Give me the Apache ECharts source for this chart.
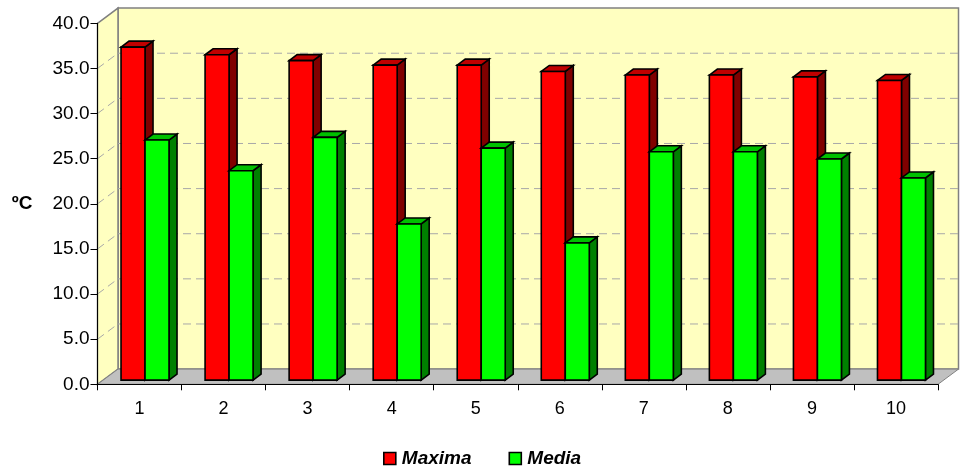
<!DOCTYPE html>
<html>
<head>
<meta charset="utf-8">
<style>html,body{margin:0;padding:0;background:#fff}#c{width:960px;height:467px}</style>
<script src="https://cdn.jsdelivr.net/npm/echarts@6/dist/echarts.min.js"></script>
</head>
<body>
<div id="c"></div>
<script>
var categories = ['1','2','3','4','5','6','7','8','9','10'];
var maxima = [36.9,36.05,35.4,34.9,34.9,34.2,33.8,33.8,33.6,33.2];
var media = [26.6,23.2,26.9,17.3,25.7,15.2,25.3,25.3,24.5,22.4];
var gridValues = [5,10,15,20,25,30,35];

var WALL_DX = 20.5, WALL_DY = -15.2;
var BAR_DX = 5.5, BAR_DY = -4.2;
var BAR_W = 24, SIDE_DX = 8, SIDE_DY = -6;

function poly(pts, fill, stroke, lw) {
  return {type:'polygon', shape:{points:pts}, style:{fill:fill, stroke:stroke||null, lineWidth:lw||0, lineJoin:'miter'}};
}
function renderWalls(params, api) {
  var cs = params.coordSys, L = cs.x, R = cs.x + cs.width, T = cs.y, B = cs.y + cs.height;
  var kids = [
    poly([[L+WALL_DX,T+WALL_DY],[R+WALL_DX,T+WALL_DY],[R+WALL_DX,B+WALL_DY],[L+WALL_DX,B+WALL_DY]], '#FFFFC0', '#808080', 1.5),
    poly([[L,T],[L+WALL_DX,T+WALL_DY],[L+WALL_DX,B+WALL_DY],[L,B]], '#FFFFC0', '#808080', 1.5),
    poly([[L,B],[L+WALL_DX,B+WALL_DY],[R+WALL_DX,B+WALL_DY],[R,B]], '#C0C0C0', '#808080', 1)
  ];
  gridValues.forEach(function (v) {
    var y = api.coord([0, v])[1];
    var style = {stroke:'#A8A8A8', lineWidth:1, lineDash:[8,5]};
    kids.push({type:'line', shape:{x1:L,y1:y,x2:L+WALL_DX,y2:y+WALL_DY}, style:style});
    kids.push({type:'line', shape:{x1:L+WALL_DX,y1:y+WALL_DY,x2:R+WALL_DX,y2:y+WALL_DY}, style:style});
  });
  return {type:'group', children:kids};
}
function barRenderer(dir, front, top, side) {
  return function (params, api) {
    var p = api.coord([api.value(0), api.value(1)]);
    var p0 = api.coord([api.value(0), 0]);
    var c = p[0] + BAR_DX;
    var x0 = dir < 0 ? c - BAR_W : c, x1 = x0 + BAR_W;
    var yT = p[1] + BAR_DY, yB = p0[1] + BAR_DY;
    var s = '#000', lw = 1.6;
    return {type:'group', children:[
      poly([[x1,yT],[x1+SIDE_DX,yT+SIDE_DY],[x1+SIDE_DX,yB+SIDE_DY],[x1,yB]], side, s, lw),
      poly([[x0,yT],[x0+SIDE_DX,yT+SIDE_DY],[x1+SIDE_DX,yT+SIDE_DY],[x1,yT]], top, s, lw),
      poly([[x0,yT],[x1,yT],[x1,yB],[x0,yB]], front, s, lw)
    ]};
  };
}
var font = '"Liberation Sans", Arial, sans-serif';
var chart = echarts.init(document.getElementById('c'), null, {renderer:'canvas'});
chart.setOption({
  animation:false,
  backgroundColor:'#fff',
  grid:{left:97.5, right:22, top:23.3, height:361},
  legend:{
    data:['Maxima','Media'], left:378, top:444, itemWidth:12, itemHeight:12, itemGap:37,
    icon:'rect', selectedMode:false,
    itemStyle:{borderColor:'#000', borderWidth:1.6},
    textStyle:{fontFamily:font, fontSize:19, fontWeight:'bold', fontStyle:'italic', color:'#000', padding:[0,0,0,1]}
  },
  xAxis:{type:'category', data:categories, boundaryGap:true, z:3,
    axisLine:{lineStyle:{color:'#000',width:1}},
    axisTick:{show:true, length:6, alignWithLabel:false, lineStyle:{color:'#000'}},
    axisLabel:{fontFamily:font, fontSize:18, color:'#000', margin:16},
    splitLine:{show:false}},
  yAxis:{type:'value', min:0, max:40, interval:5, z:3,
    name:'ºC', nameLocation:'middle', nameRotate:0, nameGap:65,
    nameTextStyle:{fontFamily:font, fontSize:19, fontWeight:'bold', color:'#000'},
    axisLine:{show:true, lineStyle:{color:'#000',width:1}},
    axisTick:{show:true, length:7, lineStyle:{color:'#000'}},
    axisLabel:{fontFamily:font, fontSize:19, color:'#000', margin:8, formatter:function(v){return v.toFixed(1);}},
    splitLine:{show:false}},
  series:[
    {type:'custom', name:'walls', silent:true, z:1, clip:false, data:[[0,0]], renderItem:renderWalls, encode:{x:0,y:1}},
    {type:'custom', name:'Maxima', z:2, clip:false, silent:true, itemStyle:{color:'#FF0000'},
     data:maxima.map(function(v,i){return [i,v];}), encode:{x:0,y:1}, renderItem:barRenderer(-1,'#FF0000','#C00000','#800000')},
    {type:'custom', name:'Media', z:2, clip:false, silent:true, itemStyle:{color:'#00FF00'},
     data:media.map(function(v,i){return [i,v];}), encode:{x:0,y:1}, renderItem:barRenderer(1,'#00FF00','#00C000','#008000')}
  ]
});
</script>
</body>
</html>
